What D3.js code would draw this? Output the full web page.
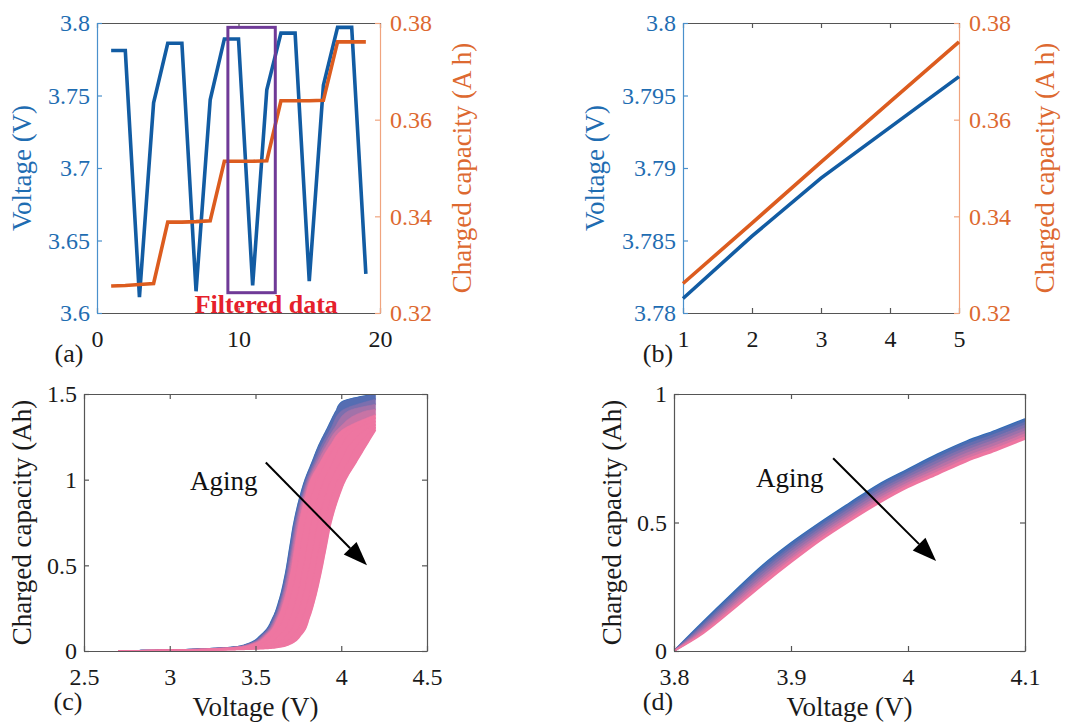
<!DOCTYPE html>
<html><head><meta charset="utf-8">
<script src="https://cdn.jsdelivr.net/npm/d3@7"></script>
<style>
body{margin:0;background:#fff}
svg{display:block}
</style>
</head><body>
<svg id="fig" width="1067" height="722"></svg>
<script>
// ================= DATA =================
// (a) raw charging samples
const sampleIndexA = [1,2,3,4,5,6,7,8,9,10,11,12,13,14,15,16,17,18,19];
const voltageA = [3.781,3.781,3.611,3.745,3.786,3.786,3.615,3.747,3.789,3.789,3.619,3.754,3.793,3.793,3.622,3.757,3.797,3.797,3.627];
const capacityA = [0.3256,0.3257,0.3259,0.3261,0.3388,0.3388,0.3389,0.3391,0.3514,0.3514,0.3514,0.3515,0.3639,0.3639,0.3639,0.3640,0.3761,0.3761,0.3761];
const filteredRangeX = [9.25, 12.6];
const filteredRangeV = [3.614, 3.797];
const xTicksA = [0,10,20], xTickLabelsA = ["0","10","20"];
const vTicksA = [3.6,3.65,3.7,3.75,3.8], vTickLabelsA = ["3.6","3.65","3.7","3.75","3.8"];
const qTicksAB = [0.32,0.34,0.36,0.38], qTickLabelsAB = ["0.32","0.34","0.36","0.38"];

// (b) filtered samples
const sampleIndexB = [1,2,3,4,5];
const voltageB = [3.781,3.7853,3.7893,3.7928,3.7963];
const capacityB = [0.3261,0.3386,0.3512,0.3637,0.3761];
const xTicksB = [1,2,3,4,5], xTickLabelsB = ["1","2","3","4","5"];
const vTicksB = [3.78,3.785,3.79,3.795,3.8], vTickLabelsB = ["3.78","3.785","3.79","3.795","3.8"];

// (c) charged capacity vs voltage, fresh -> aged (voltage at each capacity level)
const capGridC = [0,0.005,0.012,0.02,0.04,0.1,0.2,0.3,0.45,0.6,0.75,0.9,1.0,1.1,1.2,1.3,1.4,1.45];
const voltC = [
  [2.70,3.00,3.20,3.35,3.45,3.54,3.605,3.64,3.675,3.70,3.725,3.76,3.79,3.83,3.87,3.92,3.97,4.00],
  [2.70,3.01,3.21,3.36,3.46,3.547,3.611,3.646,3.681,3.706,3.731,3.767,3.797,3.84,3.885,3.94,4.00],
  [2.70,3.01,3.22,3.366,3.465,3.554,3.618,3.652,3.687,3.713,3.738,3.774,3.805,3.85,3.90,3.96,4.04],
  [2.70,3.02,3.23,3.374,3.473,3.561,3.624,3.658,3.693,3.719,3.744,3.78,3.812,3.86,3.915,3.985,4.14],
  [2.70,3.026,3.24,3.385,3.483,3.57,3.632,3.667,3.702,3.727,3.753,3.789,3.82,3.875,3.935,4.02],
  [2.70,3.06,3.29,3.43,3.525,3.609,3.668,3.702,3.737,3.763,3.79,3.828,3.86,3.91,3.97,4.06],
  [2.70,3.096,3.344,3.48,3.57,3.65,3.706,3.738,3.773,3.801,3.828,3.868,3.903,3.952,4.002,4.10],
  [2.70,3.13,3.395,3.525,3.613,3.69,3.742,3.773,3.808,3.837,3.865,3.906,3.943,3.996,4.05,4.16],
  [2.70,3.164,3.446,3.571,3.655,3.729,3.777,3.808,3.843,3.872,3.901,3.945,3.983,4.039,4.095],
  [2.70,3.20,3.50,3.62,3.70,3.77,3.815,3.845,3.88,3.91,3.94,3.985,4.025,4.085,4.145]
];
const endCapC = [1.5,1.47,1.44,1.41,1.38,1.36,1.34,1.32,1.305,1.29];
const cutoffVoltage = 4.2;
const xTicksC = [2.5,3,3.5,4,4.5], xTickLabelsC = ["2.5","3","3.5","4","4.5"];
const yTicksC = [0,0.5,1,1.5], yTickLabelsC = ["0","0.5","1","1.5"];
const agingTextC = [3.118, 0.94];
const arrowC = [[3.56,1.10],[4.15,0.50]];

// (d) zoomed window 3.8-4.1 V
const voltGridD = [3.8,3.825,3.85,3.875,3.9,3.925,3.95,3.975,4.0,4.025,4.05,4.075,4.1];
const capD = [
  [0,.114,.224,.330,.420,.500,.575,.648,.707,.765,.816,.858,.903],
  [0,.108,.215,.319,.409,.490,.565,.638,.697,.754,.805,.847,.892],
  [0,.101,.206,.309,.399,.480,.555,.627,.687,.743,.794,.836,.881],
  [0,.095,.197,.298,.388,.470,.545,.617,.677,.732,.783,.825,.870],
  [0,.088,.188,.287,.377,.460,.535,.606,.667,.720,.771,.813,.858],
  [0,.082,.178,.277,.366,.450,.525,.596,.657,.709,.760,.802,.847],
  [0,.075,.169,.266,.356,.440,.515,.586,.647,.698,.749,.791,.836],
  [0,.069,.160,.255,.345,.430,.505,.575,.637,.687,.738,.780,.825]
];
const xTicksD = [3.8,3.9,4,4.1], xTickLabelsD = ["3.8","3.9","4","4.1"];
const yTicksD = [0,0.5,1], yTickLabelsD = ["0","0.5","1"];
const agingTextD = [3.870, 0.637];
const arrowD = [[3.936,0.75],[4.024,0.35]];

// ================= STYLE =================
const FONT = '"Liberation Serif","LiberationSerif","Tinos","Times New Roman","Nimbus Roman","Nimbus Roman No9 L","FreeSerif","DejaVu Serif","Noto Serif",Times,serif';
const BLUE_LINE = "#125ca3", BLUE_TXT = "#1f6db2", BLUE_AX = "#4a90cc";
const ORANGE_LINE = "#dc5c1f", ORANGE_TXT = "#dd6930", ORANGE_AX = "#f0a47e";
const GRAY = "#555";
const AGE_BLUE = "#2f6bb6", AGE_PINK = "#ee76a1";
const TICK_FS = 24, LABEL_FS = 27;

const svg = d3.select("#fig");

function styleAxis(g, lineColor, textColor){
  g.attr("font-size", TICK_FS).attr("font-family", FONT).style("font-family", FONT);
  g.select(".domain").attr("stroke", lineColor).attr("stroke-width", 1.2);
  g.selectAll(".tick line").attr("stroke", lineColor).attr("stroke-width", 1.2);
  g.selectAll(".tick text").attr("fill", textColor).style("font-family", FONT).style("font-size", TICK_FS + "px");
}
function vLabel(x, y, text, color){
  svg.append("text").attr("transform", `translate(${x},${y}) rotate(-90)`)
    .attr("text-anchor","middle").style("font-family", FONT).style("font-size", LABEL_FS + "px")
    .attr("fill", color).text(text);
}
function hText(x, y, text, size, color, anchor, weight){
  svg.append("text").attr("x", x).attr("y", y).attr("text-anchor", anchor||"middle")
    .style("font-family", FONT).style("font-size", size + "px")
    .attr("fill", color).attr("font-weight", weight||"normal").text(text);
}
function arrow(g, x1, y1, x2, y2){
  const ang = Math.atan2(y2-y1, x2-x1), hl = 24, hw = 9;
  const bx = x2 - hl*Math.cos(ang), by = y2 - hl*Math.sin(ang);
  g.append("line").attr("x1",x1).attr("y1",y1).attr("x2",bx).attr("y2",by)
    .attr("stroke","#000").attr("stroke-width",2);
  const p = [[x2,y2],[bx+hw*Math.sin(ang), by-hw*Math.cos(ang)],[bx-hw*Math.sin(ang), by+hw*Math.cos(ang)]];
  g.append("polygon").attr("points", p.map(d=>d.join(",")).join(" ")).attr("fill","#000");
}

// ================= PANEL (a) / (b) =================
function dualPanel(box, xDom, xTicks, xLabels, vDom, vTicks, vLabels, xs, vs, qs, leftLabX, rightLabX, tag, tagX){
  const x = d3.scaleLinear().domain(xDom).range([box.l, box.r]);
  const yv = d3.scaleLinear().domain(vDom).range([box.b, box.t]);
  const yq = d3.scaleLinear().domain([0.32,0.38]).range([box.b, box.t]);
  const g = svg.append("g");
  g.append("g").attr("transform",`translate(0,${box.b})`)
    .call(d3.axisBottom(x).tickValues(xTicks).tickFormat((d,i)=>xLabels[i]).tickSizeInner(-5).tickSizeOuter(0).tickPadding(17))
    .call(a=>styleAxis(a, GRAY, "#1a1a1a"));
  g.append("g").attr("transform",`translate(0,${box.t})`)
    .call(d3.axisTop(x).tickValues(xTicks).tickFormat("").tickSizeInner(-5).tickSizeOuter(0))
    .call(a=>styleAxis(a, GRAY, "#1a1a1a"));
  g.append("g").attr("transform",`translate(${box.l},0)`)
    .call(d3.axisLeft(yv).tickValues(vTicks).tickFormat((d,i)=>vLabels[i]).tickSizeInner(-5).tickSizeOuter(0).tickPadding(7))
    .call(a=>styleAxis(a, BLUE_AX, BLUE_TXT));
  g.append("g").attr("transform",`translate(${box.r},0)`)
    .call(d3.axisRight(yq).tickValues(qTicksAB).tickFormat((d,i)=>qTickLabelsAB[i]).tickSizeInner(-5).tickSizeOuter(0).tickPadding(10))
    .call(a=>styleAxis(a, ORANGE_AX, ORANGE_TXT));
  g.append("path").datum(d3.zip(xs, vs))
    .attr("d", d3.line().x(d=>x(d[0])).y(d=>yv(d[1])))
    .attr("fill","none").attr("stroke",BLUE_LINE).attr("stroke-width",3.6);
  g.append("path").datum(d3.zip(xs, qs))
    .attr("d", d3.line().x(d=>x(d[0])).y(d=>yq(d[1])))
    .attr("fill","none").attr("stroke",ORANGE_LINE).attr("stroke-width",3.6);
  vLabel(leftLabX, (box.t+box.b)/2, "Voltage (V)", BLUE_TXT);
  vLabel(rightLabX, (box.t+box.b)/2, "Charged capacity (A h)", ORANGE_TXT);
  hText(tagX, 362, tag, 26, "#1a1a1a", "middle");
  return {x, yv};
}

const pa = dualPanel({l:97,r:380,t:23,b:313}, [0,20], xTicksA, xTickLabelsA, [3.6,3.8], vTicksA, vTickLabelsA,
  sampleIndexA, voltageA, capacityA, 31, 471, "(a)", 69);
svg.append("rect")
  .attr("x", pa.x(filteredRangeX[0])).attr("y", pa.yv(filteredRangeV[1]))
  .attr("width", pa.x(filteredRangeX[1]) - pa.x(filteredRangeX[0]))
  .attr("height", pa.yv(filteredRangeV[0]) - pa.yv(filteredRangeV[1]))
  .attr("fill","none").attr("stroke","#6f3a97").attr("stroke-width",3);
hText(pa.x(6.9), pa.yv(3.6), "Filtered data", 26, "#e5202b", "start", "bold");

dualPanel({l:683,r:959,t:23,b:313}, [1,5], xTicksB, xTickLabelsB, [3.78,3.8], vTicksB, vTickLabelsB,
  sampleIndexB, voltageB, capacityB, 604, 1054, "(b)", 658);

// ================= PANEL (c) / (d) frames =================
function boxPanel(box, xDom, xTicks, xLabels, yDom, yTicks, yLabels, ylabX, tag, tagX){
  const x = d3.scaleLinear().domain(xDom).range([box.l, box.r]);
  const y = d3.scaleLinear().domain(yDom).range([box.b, box.t]);
  const id = "clip" + tag.replace(/\W/g,"");
  svg.append("clipPath").attr("id", id).append("rect")
    .attr("x", box.l).attr("y", box.t).attr("width", box.r-box.l).attr("height", box.b-box.t);
  const plot = svg.append("g").attr("clip-path", `url(#${id})`);
  const axes = svg.append("g");
  axes.append("g").attr("transform",`translate(0,${box.b})`)
    .call(d3.axisBottom(x).tickValues(xTicks).tickFormat((d,i)=>xLabels[i]).tickSizeInner(-5).tickSizeOuter(0).tickPadding(17))
    .call(a=>styleAxis(a, GRAY, "#1a1a1a"));
  axes.append("g").attr("transform",`translate(0,${box.t})`)
    .call(d3.axisTop(x).tickValues(xTicks).tickFormat("").tickSizeInner(-5).tickSizeOuter(0))
    .call(a=>styleAxis(a, GRAY, "#1a1a1a"));
  axes.append("g").attr("transform",`translate(${box.l},0)`)
    .call(d3.axisLeft(y).tickValues(yTicks).tickFormat((d,i)=>yLabels[i]).tickSizeInner(-5).tickSizeOuter(0).tickPadding(7))
    .call(a=>styleAxis(a, GRAY, "#1a1a1a"));
  axes.append("g").attr("transform",`translate(${box.r},0)`)
    .call(d3.axisRight(y).tickValues(yTicks).tickFormat("").tickSizeInner(-5).tickSizeOuter(0))
    .call(a=>styleAxis(a, GRAY, "#1a1a1a"));
  vLabel(ylabX, (box.t+box.b)/2, "Charged capacity (Ah)", "#1a1a1a");
  hText((box.l+box.r)/2, 716, "Voltage (V)", LABEL_FS, "#1a1a1a", "middle");
  hText(tagX, 710, tag, 26, "#1a1a1a", "middle");
  return {x, y, plot, ann: svg.append("g")};
}

// smooth a data curve and return its pixel outline (rendering geometry only)
const probe = svg.append("path").attr("visibility","hidden").attr("fill","none");
function smoothPixels(d){
  probe.attr("d", d);
  const node = probe.node(), L = node.getTotalLength(), n = Math.max(2, Math.ceil(L/1.5));
  return d3.range(n+1).map(i=>{ const q = node.getPointAtLength(L*i/n); return [q.x, q.y]; });
}

// ---- (c)
const pc = boxPanel({l:84,r:427,t:394,b:651}, [2.5,4.5], xTicksC, xTickLabelsC, [0,1.5], yTicksC, yTickLabelsC, 31, "(c)", 68);
const ptsC = voltC.map((v,k)=>{ const p = v.map((vv,i)=>[vv, capGridC[i]]); p.push([cutoffVoltage, endCapC[k]]); return p; });
const lineC = d3.line().x(d=>pc.x(d[0])).y(d=>pc.y(d[1])).curve(d3.curveMonotoneY);
const pixC = ptsC.map(p=>smoothPixels(lineC(p)));
const colC = k => d3.interpolateRgb(AGE_BLUE, AGE_PINK)(Math.min(1, k/5));
const pixLine = d3.line();
pixC.forEach((p,k)=>{
  if (k>0){
    const poly = p.concat(pixC[k-1].slice().reverse());
    pc.plot.append("path").attr("d", pixLine(poly)+"Z").attr("fill", colC(k)).attr("stroke", colC(k)).attr("stroke-width",0.6);
  }
  pc.plot.append("path").attr("d", pixLine(p)).attr("fill","none").attr("stroke", colC(k)).attr("stroke-width",1.6);
});
hText(pc.x(agingTextC[0]), pc.y(agingTextC[1]), "Aging", 27, "#111", "start");
arrow(pc.ann, pc.x(arrowC[0][0]), pc.y(arrowC[0][1]), pc.x(arrowC[1][0]), pc.y(arrowC[1][1]));

// ---- (d)
const pd = boxPanel({l:674,r:1025,t:394,b:651}, [3.8,4.1], xTicksD, xTickLabelsD, [0,1], yTicksD, yTickLabelsD, 621, "(d)", 658);
const idxD = d3.range(voltGridD.length);
const colD = k => d3.interpolateRgb(AGE_BLUE, AGE_PINK)(k/(capD.length-1));
capD.forEach((c,k)=>{
  if (k>0){
    pd.plot.append("path").datum(idxD)
      .attr("d", d3.area().x(i=>pd.x(voltGridD[i])).y0(i=>pd.y(capD[k-1][i])).y1(i=>pd.y(c[i])).curve(d3.curveMonotoneX))
      .attr("fill", colD(k));
  }
  pd.plot.append("path").datum(idxD)
    .attr("d", d3.line().x(i=>pd.x(voltGridD[i])).y(i=>pd.y(c[i])).curve(d3.curveMonotoneX))
    .attr("fill","none").attr("stroke", colD(k)).attr("stroke-width",1.8);
});
hText(pd.x(agingTextD[0]), pd.y(agingTextD[1]), "Aging", 27, "#111", "start");
arrow(pd.ann, pd.x(arrowD[0][0]), pd.y(arrowD[0][1]), pd.x(arrowD[1][0]), pd.y(arrowD[1][1]));
</script>
</body></html>
